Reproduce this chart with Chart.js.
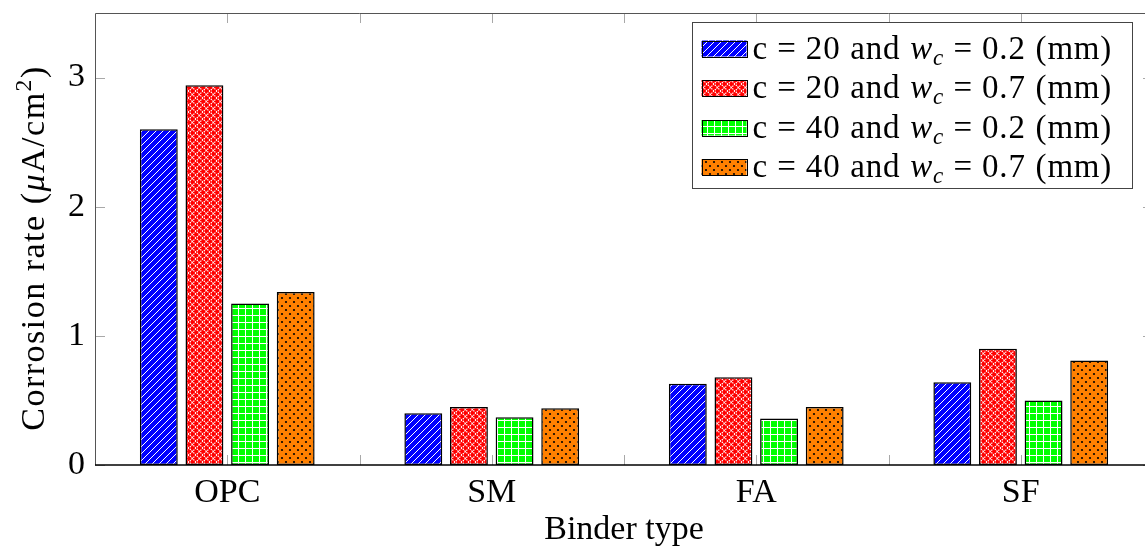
<!DOCTYPE html>
<html>
<head>
<meta charset="utf-8">
<script src="https://cdn.jsdelivr.net/npm/chart.js@4.4.1/dist/chart.umd.min.js"></script>
<style>
  html, body { margin: 0; padding: 0; background: #fff; overflow: hidden; }
  #wrap { width: 1165px; height: 547px; }
</style>
</head>
<body>
<div id="wrap"><canvas id="chart" width="1165" height="547"></canvas></div>
<script>
/* ── Data ─────────────────────────────────────────────────────────── */
const binders     = ['OPC', 'SM', 'FA', 'SF'];
const coverDepth  = [20, 20, 40, 40];          // c (mm)
const crackWidth  = [0.2, 0.7, 0.2, 0.7];      // w_c (mm)
const rateC20W02  = [2.60, 0.40, 0.63, 0.64];
const rateC20W07  = [2.94, 0.45, 0.68, 0.90];
const rateC40W02  = [1.25, 0.37, 0.36, 0.50];
const rateC40W07  = [1.34, 0.44, 0.45, 0.81];
const yTicks      = [0, 1, 2, 3];
const yMax        = 3.5;

/* ── Style ────────────────────────────────────────────────────────── */
const SERIF = '"Liberation Serif", "Times New Roman", serif';
const FS = 33;

function makePattern(kind) {
  const t = document.createElement('canvas');
  const n = kind === 'dots' ? 8 : 7;
  t.width = n; t.height = n;
  const g = t.getContext('2d');
  if (kind === 'lines') {           // blue, north-east lines
    g.fillStyle = '#0000ff'; g.fillRect(0, 0, n, n);
    g.strokeStyle = '#fff'; g.lineWidth = 1;
    g.beginPath();
    g.moveTo(-1, n + 1); g.lineTo(n + 1, -1);
    g.moveTo(-1, 1); g.lineTo(1, -1);
    g.moveTo(n - 1, n + 1); g.lineTo(n + 1, n - 1);
    g.stroke();
  } else if (kind === 'crosshatch') { // red, crosshatch dots
    g.fillStyle = '#ff0000'; g.fillRect(0, 0, n, n);
    g.strokeStyle = '#fff'; g.lineWidth = 1.2;
    g.setLineDash([1.5, 1]);
    g.beginPath();
    g.moveTo(-1, n + 1); g.lineTo(n + 1, -1);
    g.moveTo(-1, -1); g.lineTo(n + 1, n + 1);
    g.stroke();
  } else if (kind === 'grid') {     // green, grid
    g.fillStyle = '#00ff00'; g.fillRect(0, 0, n, n);
    g.fillStyle = '#fff';
    g.fillRect(0, 0, n, 1); g.fillRect(0, 0, 1, n);
  } else {                          // orange, dots
    g.fillStyle = '#ff8000'; g.fillRect(0, 0, n, n);
    g.fillStyle = '#000';
    [[2, 2], [6, 6]].forEach(([x, y]) => {
      g.beginPath(); g.arc(x, y, 1.1, 0, Math.PI * 2); g.fill();
    });
  }
  return g.createPattern(t, 'repeat');
}

const fills = [makePattern('lines'), makePattern('crosshatch'), makePattern('grid'), makePattern('dots')];
const seriesValues = [rateC20W02, rateC20W07, rateC40W02, rateC40W07];

/* ── Mixed-font text helper (roman / italic / sub / sup) ──────────── */
function setRunFont(ctx, r, fs) {
  const size = r.small ? fs * 0.7 : fs;
  ctx.font = `${r.italic ? 'italic ' : ''}${size}px ${SERIF}`;
}
function measureRuns(ctx, runs, fs) {
  let w = 0;
  runs.forEach(r => {
    if (r.gap) { w += r.gap; return; }
    setRunFont(ctx, r, fs);
    w += ctx.measureText(r.t).width;
  });
  return w;
}
function drawRuns(ctx, runs, x, y, fs) {
  let cx = x;
  runs.forEach(r => {
    if (r.gap) { cx += r.gap; return; }
    setRunFont(ctx, r, fs);
    ctx.fillText(r.t, cx, y + (r.dy || 0));
    cx += ctx.measureText(r.t).width;
  });
  return cx - x;
}
function legendRuns(i) {
  const th = FS * 0.28, sp = FS * 0.3;
  return [
    { t: 'c' }, { gap: th }, { t: '=' }, { gap: th }, { t: String(coverDepth[i]) },
    { gap: sp }, { t: 'and' }, { gap: sp },
    { t: 'w', italic: true }, { t: 'c', italic: true, small: true, dy: 6 },
    { gap: th }, { t: '=' }, { gap: th }, { t: crackWidth[i].toFixed(1) },
    { gap: sp }, { t: '(mm)' }
  ];
}

/* ── Plugin: inward ticks, frame, legend, y-label ─────────────────── */
const axisDecor = {
  id: 'axisDecor',
  beforeDatasetsDraw(chart) {
    const { ctx, chartArea: a, scales: { x, y } } = chart;
    const L = 10;
    ctx.save();
    ctx.strokeStyle = '#a8a8a8';
    ctx.lineWidth = 1;
    ctx.beginPath();
    yTicks.forEach(v => {
      const py = Math.round(y.getPixelForValue(v)) + 0.5;
      ctx.moveTo(a.left, py); ctx.lineTo(a.left + L, py);
      ctx.moveTo(a.right, py); ctx.lineTo(a.right - L, py);
    });
    for (let k = 0; k < binders.length * 2 - 1; k++) {
      const px = Math.round(x.getPixelForValue(k / 2)) + 0.5;
      ctx.moveTo(px, a.bottom); ctx.lineTo(px, a.bottom - L);
      ctx.moveTo(px, a.top); ctx.lineTo(px, a.top + L);
    }
    ctx.stroke();
    ctx.restore();
  },
  afterDatasetsDraw(chart) {
    const { ctx, chartArea: a } = chart;
    ctx.save();
    ctx.strokeStyle = '#555';
    ctx.lineWidth = 1;
    ctx.beginPath();
    ctx.moveTo(a.left + 0.5, a.bottom); ctx.lineTo(a.left + 0.5, a.top + 0.5);
    ctx.lineTo(a.right - 0.5, a.top + 0.5); ctx.lineTo(a.right - 0.5, a.bottom);
    ctx.stroke();
    ctx.strokeStyle = '#000';
    ctx.lineWidth = 1.5;
    ctx.beginPath();
    ctx.moveTo(a.left, a.bottom); ctx.lineTo(a.right, a.bottom);
    ctx.stroke();
    ctx.restore();
  },
  afterDraw(chart) {
    const { ctx, chartArea: a } = chart;
    ctx.save();
    ctx.fillStyle = '#000';
    ctx.textBaseline = 'alphabetic';

    /* legend box (north east, like pgfplots) */
    const W = 440, H = 166;
    const bx = Math.round(a.left + 0.98 * (a.right - a.left) - W) + 0.5;
    const by = Math.round(a.top + 0.02 * (a.bottom - a.top)) + 0.5;
    ctx.fillStyle = '#fff';
    ctx.fillRect(bx, by, W, H);
    ctx.strokeStyle = '#444'; ctx.lineWidth = 1;
    ctx.strokeRect(bx, by, W, H);
    ctx.letterSpacing = '0.8px';
    chart.data.datasets.forEach((ds, i) => {
      const cy = by + 26 + i * 39.5;
      const sx = bx + 9, sw = 45, sh = 16;
      ctx.fillStyle = ds.backgroundColor;
      ctx.fillRect(sx, cy - sh / 2, sw, sh);
      ctx.strokeStyle = '#000'; ctx.lineWidth = 1;
      ctx.strokeRect(Math.round(sx) + 0.5, Math.round(cy - sh / 2) + 0.5, sw, sh);
      ctx.fillStyle = '#000';
      drawRuns(ctx, legendRuns(i), sx + sw + 6, cy + 10, FS);
    });

    /* y-axis title */
    const TFS = 34;
    ctx.letterSpacing = '1.5px';
    const yRuns = [
      { t: 'Corrosion rate (' }, { t: 'μ', italic: true }, { t: 'A/cm' },
      { t: '2', small: true, dy: -13 }, { t: ')' }
    ];
    const tw = measureRuns(ctx, yRuns, TFS);
    ctx.translate(44, (a.top + a.bottom) / 2 + 9);
    ctx.rotate(-Math.PI / 2);
    drawRuns(ctx, yRuns, -tw / 2, 0, TFS);
    ctx.restore();
  }
};

/* ── Chart ────────────────────────────────────────────────────────── */
new Chart(document.getElementById('chart'), {
  type: 'bar',
  data: {
    labels: binders,
    datasets: seriesValues.map((vals, i) => ({
      label: `c = ${coverDepth[i]} and w_c = ${crackWidth[i]} (mm)`,
      data: vals,
      backgroundColor: fills[i],
      borderColor: '#000',
      borderWidth: 1.5,
      borderSkipped: false,
      categoryPercentage: 0.69,
      barPercentage: 0.83,
    })),
  },
  options: {
    responsive: false,
    animation: false,
    devicePixelRatio: 1,
    layout: { padding: { top: 13, right: 12, left: 0, bottom: 0 } },
    plugins: { legend: { display: false }, tooltip: { enabled: false } },
    scales: {
      x: {
        type: 'category',
        offset: true,
        grid: { display: false, drawTicks: false },
        border: { display: false },
        ticks: { color: '#000', font: { family: SERIF, size: 34 }, padding: 8, maxRotation: 0 },
        title: {
          display: true, text: 'Binder type', color: '#000',
          font: { family: SERIF, size: 34, lineHeight: 1 },
          padding: { top: 0, bottom: 0 },
        },
        afterFit(s) { s.height = 82; s.paddingLeft = 0; s.paddingRight = 0; },
      },
      y: {
        min: 0,
        max: yMax,
        grid: { display: false, drawTicks: false },
        border: { display: false },
        ticks: { color: '#000', font: { family: SERIF, size: 34 }, padding: 10 },
        afterBuildTicks(s) { s.ticks = yTicks.map(v => ({ value: v })); },
        afterFit(s) { s.width = 95; s.paddingTop = 0; s.paddingBottom = 0; },
      },
    },
  },
  plugins: [axisDecor],
});
</script>
</body>
</html>
